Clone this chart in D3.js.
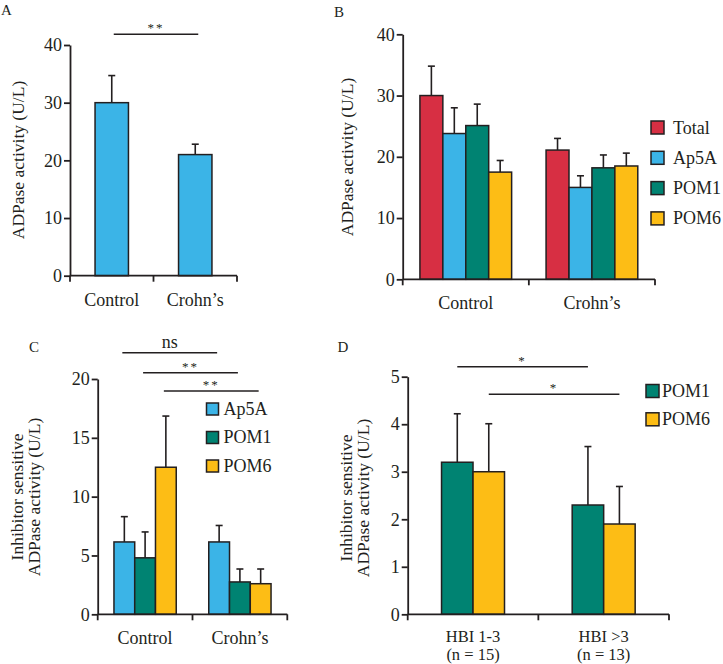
<!DOCTYPE html>
<html><head><meta charset="utf-8">
<script src="https://cdn.jsdelivr.net/npm/d3@7"></script>
<style>body{margin:0;background:#fff}</style>
</head><body>
<script>
// ---------- DATA ----------
const groupsAB = ["Control", "Crohn’s"];
// Panel A: total ADPase activity
const totalA = [30.0, 21.0];
const totalErrA = [4.7, 1.8];
// Panel B
const seriesB = ["Total", "Ap5A", "POM1", "POM6"];
const valuesB = [[30.0, 23.8, 25.1, 17.5], [21.1, 15.0, 18.2, 18.5]];
const errorsB = [[4.8, 4.2, 3.5, 1.9], [1.9, 1.9, 2.1, 2.1]];
// Panel C
const seriesC = ["Ap5A", "POM1", "POM6"];
const valuesC = [[6.15, 4.8, 12.5], [6.15, 2.75, 2.6]];
const errorsC = [[2.15, 2.2, 4.35], [1.4, 1.1, 1.25]];
const sigC = [["Ap5A", "ns"], ["POM1", "**"], ["POM6", "**"]];
// Panel D
const groupsD = ["HBI 1-3", "HBI >3"];
const groupsDsub = ["(n = 15)", "(n = 13)"];
const seriesD = ["POM1", "POM6"];
const valuesD = [[3.2, 3.0], [2.3, 1.9]];
const errorsD = [[1.02, 1.01], [1.23, 0.79]];
const sigD = [["POM1", "*"], ["POM6", "*"]];
// tick labels
const ticksAB = [0, 10, 20, 30, 40];
const ticksC = [0, 5, 10, 15, 20];
const ticksD = [0, 1, 2, 3, 4, 5];

const colors = {Total: "#d72f43", Ap5A: "#3bb4e7", POM1: "#008372", POM6: "#fdbd15"};
const ink = "#231f20";
const FONT = "'Liberation Serif','Times New Roman',serif";
const FS = 18;

const svg = d3.select("body").append("svg").attr("width", 723).attr("height", 664)
  .style("font-family", FONT);

function panel(o) {
  const g = svg.append("g");
  const y = d3.scaleLinear().domain([0, o.ticks[o.ticks.length - 1]]).range([o.yb, o.yt]);
  const x = d3.scaleBand().domain(o.groups).range([o.xa, o.xb]).padding(0);
  const gw = x.bandwidth() * o.frac;
  const inner = d3.scaleBand().domain(o.series).range([0, gw]).padding(0);
  const bx = (gi, s) => x(o.groups[gi]) + (x.bandwidth() - gw) / 2 + inner(s);

  // bars + error bars
  o.groups.forEach((grp, gi) => {
    o.series.forEach((s, si) => {
      const v = o.values[gi][si], e = o.errors[gi][si];
      const xl = bx(gi, s), w = inner.bandwidth(), cx = xl + w / 2;
      g.append("line").attr("x1", cx).attr("x2", cx).attr("y1", y(v)).attr("y2", y(v + e))
        .attr("stroke", ink).attr("stroke-width", 1.6);
      g.append("line").attr("x1", cx - 3.5).attr("x2", cx + 3.5).attr("y1", y(v + e)).attr("y2", y(v + e))
        .attr("stroke", ink).attr("stroke-width", 1.6);
      g.append("rect").attr("x", xl).attr("y", y(v)).attr("width", w).attr("height", y(0) - y(v))
        .attr("fill", colors[o.fillKey || s]).attr("stroke", ink).attr("stroke-width", 1.5);
    });
  });

  // y axis
  const ya = g.append("g").attr("transform", `translate(${o.xa},0)`)
    .call(d3.axisLeft(y).tickValues(o.ticks).tickFormat(d3.format("d")).tickSize(6).tickPadding(2).tickSizeOuter(0));
  ya.selectAll("path,line").attr("stroke", ink).attr("stroke-width", 1.8);
  ya.selectAll("text").attr("font-size", FS).attr("fill", ink).style("font-family", FONT);

  // x axis line and boundary ticks
  g.append("line").attr("x1", o.xa).attr("x2", o.xb).attr("y1", o.yb).attr("y2", o.yb)
    .attr("stroke", ink).attr("stroke-width", 1.8);
  const bounds = [o.xa].concat(o.groups.map(d => x(d) + x.bandwidth()));
  bounds.forEach(bxp => g.append("line").attr("x1", bxp).attr("x2", bxp).attr("y1", o.yb).attr("y2", o.yb + 6)
    .attr("stroke", ink).attr("stroke-width", 1.8));
  // category labels
  o.groups.forEach((d, i) => {
    g.append("text").attr("x", x(d) + x.bandwidth() / 2).attr("y", o.yb + (o.sub ? 28 : 30))
      .attr("text-anchor", "middle").attr("font-size", o.sub ? 16.5 : FS).attr("fill", ink).text(d);
    if (o.sub) g.append("text").attr("x", x(d) + x.bandwidth() / 2).attr("y", o.yb + 46)
      .attr("text-anchor", "middle").attr("font-size", 16.5).attr("fill", ink).text(o.sub[i]);
  });

  // y title
  o.ytitle.forEach((t, i) => {
    g.append("text").attr("transform", `translate(${o.ytx[i]},${o.yty}) rotate(-90)`)
      .attr("text-anchor", "middle").attr("dy", "0.35em").attr("font-size", 17.5).attr("fill", ink).text(t);
  });
  // panel letter
  g.append("text").attr("x", o.lx).attr("y", o.ly).attr("font-size", 15).attr("fill", ink).text(o.letter);
  return {g, x, y, inner, bx};
}

function legend(g, items, x0, y0, step, size, gap, fs) {
  items.forEach((s, i) => {
    g.append("rect").attr("x", x0).attr("y", y0 + i * step).attr("width", size).attr("height", size)
      .attr("fill", colors[s]).attr("stroke", ink).attr("stroke-width", 1.5);
    g.append("text").attr("x", x0 + size + gap).attr("y", y0 + i * step + size - 0.5)
      .attr("font-size", fs).attr("fill", ink).text(s);
  });
}

function sigLine(g, x1, x2, yy, label, small) {
  g.append("line").attr("x1", x1).attr("x2", x2).attr("y1", yy).attr("y2", yy)
    .attr("stroke", ink).attr("stroke-width", 1.5);
  g.append("text").attr("x", (x1 + x2) / 2).attr("y", small ? yy - 2 : yy - 5).attr("text-anchor", "middle")
    .attr("font-size", small ? 13 : FS).attr("fill", ink)
    .attr("letter-spacing", small ? 2 : 0).text(label);
}

// ---------- Panel A ----------
const A = panel({xa: 70, xb: 237, yt: 45, yb: 275.7, ticks: ticksAB, groups: groupsAB,
  series: ["Total"], fillKey: "Ap5A", values: totalA.map(v => [v]), errors: totalErrA.map(v => [v]), frac: 0.4,
  ytitle: ["ADPase activity (U/L)"], ytx: [18], yty: 160, letter: "A", lx: 1, ly: 15});
{
  const c0 = A.bx(0, "Total") + A.inner.bandwidth() / 2, c1 = A.bx(1, "Total") + A.inner.bandwidth() / 2;
  sigLine(A.g, c0 + 2, c1 + 3, 34.3, "**", true);
}

// ---------- Panel B ----------
const B = panel({xa: 402.7, xb: 655, yt: 34.3, yb: 279.3, ticks: ticksAB, groups: groupsAB,
  series: seriesB, values: valuesB, errors: errorsB, frac: 0.727,
  ytitle: ["ADPase activity (U/L)"], ytx: [346.7], yty: 157, letter: "B", lx: 334, ly: 16.5});
legend(B.g, seriesB, 651, 121, 30.3, 13, 9, FS);

// ---------- Panel C ----------
const C = panel({xa: 97.7, xb: 287.3, yt: 379, yb: 614.3, ticks: ticksC, groups: groupsAB,
  series: seriesC, values: valuesC, errors: errorsC, frac: 0.657,
  ytitle: ["Inhibitor sensitive", "ADPase activity (U/L)"], ytx: [16.7, 34.3], yty: 497,
  letter: "C", lx: 29, ly: 351.5});
legend(C.g, seriesC, 206.5, 403, 28.5, 12, 5, FS);
{
  const levels = [352.7, 372.7, 391];
  sigC.forEach(([s, lab], i) => {
    const w = C.inner.bandwidth() / 2;
    sigLine(C.g, C.bx(0, s) + w - 2, C.bx(1, s) + w - 2, levels[i], lab, lab !== "ns");
  });
}

// ---------- Panel D ----------
const D = panel({xa: 407.7, xb: 669, yt: 376.7, yb: 614.3, ticks: ticksD, groups: groupsD, sub: groupsDsub,
  series: seriesD, values: valuesD, errors: errorsD, frac: 0.482,
  ytitle: ["Inhibitor sensitive", "ADPase activity (U/L)"], ytx: [345.7, 363.3], yty: 498,
  letter: "D", lx: 337.5, ly: 351.5});
legend(D.g, seriesD, 646, 384.5, 28.3, 13, 3, FS);
{
  const levels = [366.7, 394.3];
  sigD.forEach(([s, lab], i) => {
    const w = D.inner.bandwidth() / 2;
    sigLine(D.g, D.bx(0, s) + w, D.bx(1, s) + w, levels[i], lab, true);
  });
}
</script>
</body></html>
